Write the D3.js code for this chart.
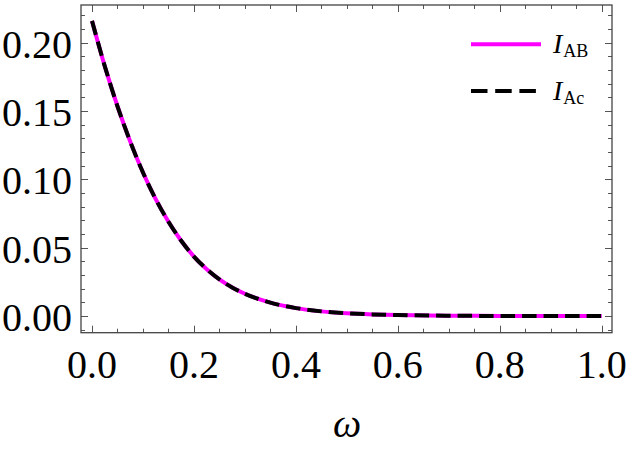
<!DOCTYPE html>
<html>
<head>
<meta charset="utf-8">
<script src="https://cdn.jsdelivr.net/npm/d3@7"></script>
<style>
  body { margin: 0; background: #fff; }
  svg { display: block; }
</style>
</head>
<body>
<div id="container"></div>
<script>
// values
var omega = [0, 0.025, 0.05, 0.075, 0.1, 0.125, 0.15, 0.175, 0.2, 0.225, 0.25, 0.275, 0.3, 0.35, 0.4, 0.45, 0.5, 0.55, 0.6, 0.7, 0.8, 0.9, 1.0];
var iAB   = [0.216, 0.1829, 0.1535, 0.1276, 0.105, 0.0855, 0.069, 0.0551, 0.0435, 0.0343, 0.0268, 0.0209, 0.0163, 0.0098, 0.0058, 0.0034, 0.002, 0.0012, 0.0007, 0.00023, 0.00007, 0.00002, 0.000005];
var iAc   = [0.216, 0.1829, 0.1535, 0.1276, 0.105, 0.0855, 0.069, 0.0551, 0.0435, 0.0343, 0.0268, 0.0209, 0.0163, 0.0098, 0.0058, 0.0034, 0.002, 0.0012, 0.0007, 0.00023, 0.00007, 0.00002, 0.000005];

var xMajor = [0, 0.2, 0.4, 0.6, 0.8, 1.0];
var yMajor = [0, 0.05, 0.10, 0.15, 0.20];
var xLabels = ["0.0", "0.2", "0.4", "0.6", "0.8", "1.0"];
var yLabels = ["0.00", "0.05", "0.10", "0.15", "0.20"];
var xMinor = d3.range(0, 1.0001, 0.05);
var yMinor = d3.range(-0.01, 0.2201, 0.01);

var width = 631, height = 449;
var mLeft = 81, mRight = 612, mTop = 5, mBottom = 332.7;

var svg = d3.select("#container")
  .append("svg")
    .attr("width", width)
    .attr("height", height)
    .attr("font-family", "'Liberation Serif', Tinos, 'Times New Roman', Times, serif");

var x = d3.scaleLinear()
  .domain([-0.0216, 1.0202])
  .range([mLeft, mRight]);

var y = d3.scaleLinear()
  .domain([-0.0122, 0.2276])
  .range([mBottom, mTop]);

var tickCol = "#555";

// minor + major ticks on all four sides
function isMajor(v, list) { return list.some(m => Math.abs(m - v) < 1e-6); }

var tk = svg.append("g").attr("stroke", tickCol).attr("stroke-width", 1);
xMinor.forEach(function(v) {
  var len = isMajor(v, xMajor) ? 7 : 4;
  var px = Math.round(x(v)) + 0.5;
  tk.append("line").attr("x1", px).attr("x2", px).attr("y1", mBottom).attr("y2", mBottom - len);
  tk.append("line").attr("x1", px).attr("x2", px).attr("y1", mTop).attr("y2", mTop + len);
});
yMinor.forEach(function(v) {
  var len = isMajor(v, yMajor) ? 7 : 4;
  var py = Math.round(y(v)) + 0.5;
  tk.append("line").attr("x1", mLeft).attr("x2", mLeft + len).attr("y1", py).attr("y2", py);
  tk.append("line").attr("x1", mRight).attr("x2", mRight - len).attr("y1", py).attr("y2", py);
});

svg.append("rect")
  .attr("x", mLeft)
  .attr("y", mTop)
  .attr("width", mRight - mLeft)
  .attr("height", mBottom - mTop)
  .attr("fill", "none")
  .attr("stroke", "#444")
  .attr("stroke-width", 1.3);

// tick labels
svg.append("g").selectAll("text")
  .data(xMajor)
  .join("text")
    .attr("x", d => x(d))
    .attr("y", 378)
    .attr("text-anchor", "middle")
    .attr("font-size", 40)
    .text((d, i) => xLabels[i]);

svg.append("g").selectAll("text")
  .data(yMajor)
  .join("text")
    .attr("x", 72)
    .attr("y", d => y(d) + 15)
    .attr("text-anchor", "end")
    .attr("font-size", 40)
    .text((d, i) => yLabels[i]);

svg.append("text")
  .attr("x", 347)
  .attr("y", 437)
  .attr("text-anchor", "middle")
  .attr("font-size", 40)
  .attr("font-style", "italic")
  .text("ω");

// curves
var ptsAB = omega.map((w, i) => ({ w: w, v: iAB[i] }));
var ptsAc = omega.map((w, i) => ({ w: w, v: iAc[i] }));
var line = d3.line()
  .x(d => x(d.w))
  .y(d => y(d.v))
  .curve(d3.curveMonotoneX);

svg.append("path")
  .datum(ptsAB)
  .attr("fill", "none")
  .attr("stroke", "#ff00ff")
  .attr("stroke-width", 4)
  .attr("d", line);

svg.append("path")
  .datum(ptsAc)
  .attr("fill", "none")
  .attr("stroke", "#000")
  .attr("stroke-width", 4)
  .attr("stroke-dasharray", "14.5,7")
  .attr("d", line);

// legend
var lg = svg.append("g");
lg.append("line")
  .attr("x1", 471).attr("x2", 541).attr("y1", 44.3).attr("y2", 44.3)
  .attr("stroke", "#ff00ff").attr("stroke-width", 4);
lg.append("line")
  .attr("x1", 471).attr("x2", 536).attr("y1", 91).attr("y2", 91)
  .attr("stroke", "#000").attr("stroke-width", 4)
  .attr("stroke-dasharray", "16.5,7.7");

var labels = [["I", "AB", 53.3], ["I", "Ac", 100]];
labels.forEach(function(l) {
  var t = lg.append("text").attr("x", 553).attr("y", l[2]).attr("font-size", 28);
  t.append("tspan").attr("font-style", "italic").text(l[0]);
  t.append("tspan").attr("font-size", 18).attr("dx", 1).attr("dy", 4).text(l[1]);
});
</script>
</body>
</html>
